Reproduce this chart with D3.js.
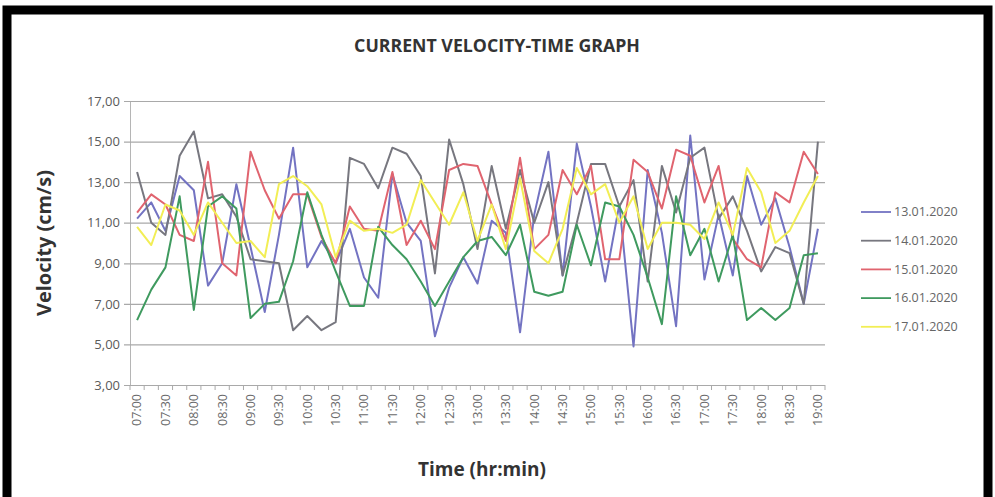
<!DOCTYPE html>
<html>
<head>
<meta charset="utf-8">
<script src="https://cdn.jsdelivr.net/npm/d3@7"></script>
<style>
  body { margin: 0; background: #fff; }
  text { font-family: "Open Sans", "DejaVu Sans", sans-serif; }
</style>
</head>
<body>
<svg id="chart" width="995" height="497"></svg>
<script>
// Measurement times, every 15 minutes
const times = [
  "07:00","07:15","07:30","07:45","08:00","08:15","08:30","08:45","09:00","09:15",
  "09:30","09:45","10:00","10:15","10:30","10:45","11:00","11:15","11:30","11:45",
  "12:00","12:15","12:30","12:45","13:00","13:15","13:30","13:45","14:00","14:15",
  "14:30","14:45","15:00","15:15","15:30","15:45","16:00","16:15","16:30","16:45",
  "17:00","17:15","17:30","17:45","18:00","18:15","18:30","18:45","19:00"
];
// Labelled times on the x axis
const timeLabels = times.filter((t, i) => i % 2 === 0);
// Velocity axis ticks (cm/s)
const velocityTicks = [3, 5, 7, 9, 11, 13, 15, 17];

const seriesNames = ["13.01.2020", "14.01.2020", "15.01.2020", "16.01.2020", "17.01.2020"];
const seriesColors = ["#7373c2", "#77777f", "#e0646f", "#3f9a5f", "#f2ee55"];

// Current velocity (cm/s) per day
const v13 = [11.2,12.0,10.6,13.3,12.6,7.9,9.0,12.9,9.8,6.6,10.4,14.7,8.8,10.1,9.0,10.7,8.3,7.3,13.4,11.0,
             10.1,5.4,7.8,9.3,8.0,11.1,10.5,5.6,11.4,14.5,8.4,14.9,11.8,8.1,11.9,4.9,13.6,10.5,5.9,15.3,
             8.2,11.4,8.4,13.3,10.9,12.2,9.8,7.0,10.7];
const v14 = [13.5,11.0,10.4,14.3,15.5,12.2,12.4,11.3,9.2,9.1,9.0,5.7,6.4,5.7,6.1,14.2,13.9,12.7,14.7,14.4,
             13.3,8.5,15.1,12.9,9.7,13.8,10.7,13.6,11.0,13.0,8.4,11.0,13.9,13.9,11.8,13.1,8.1,13.8,11.5,14.2,
             14.7,11.2,12.3,10.6,8.6,9.8,9.5,7.0,15.0];
const v15 = [11.5,12.4,11.9,10.4,10.1,14.0,9.0,8.4,14.5,12.6,11.2,12.4,12.4,10.3,9.0,11.8,10.7,10.6,13.5,9.9,
             11.1,9.7,13.6,13.9,13.8,11.9,10.1,14.2,9.7,10.4,13.6,12.4,13.8,9.2,9.2,14.1,13.5,11.7,14.6,14.3,
             12.0,13.8,10.2,9.2,8.8,12.5,12.0,14.5,13.4];
const v16 = [6.2,7.7,8.8,12.3,6.7,11.8,12.3,11.7,6.3,7.0,7.1,9.1,12.5,10.4,8.6,6.9,6.9,10.8,9.9,9.2,
             8.1,6.9,8.1,9.3,10.1,10.3,9.4,10.9,7.6,7.4,7.6,10.9,8.9,12.0,11.8,10.4,8.3,6.0,12.3,9.4,
             10.7,8.1,10.4,6.2,6.8,6.2,6.8,9.4,9.5];
const v17 = [10.8,9.9,11.9,11.6,10.4,12.0,11.0,10.0,10.1,9.3,12.9,13.3,12.8,11.9,9.3,11.1,10.6,10.7,10.5,10.9,
             13.1,12.0,10.9,12.5,10.1,11.9,9.7,13.2,9.6,9.0,10.7,13.7,12.4,12.9,11.0,12.3,9.7,11.0,11.0,10.9,
             10.2,12.0,10.4,13.7,12.5,10.0,10.6,12.0,13.3];
const seriesValues = [v13, v14, v15, v16, v17];

const svg = d3.select("#chart");
const W = 995, H = 497;

svg.append("rect").attr("width", W).attr("height", H).attr("fill", "#fff");

// Plot area
const plotLeft = 130, plotRight = 825, plotTop = 101, plotBottom = 385;

const x = d3.scalePoint().domain(times).range([plotLeft, plotRight]).padding(0.5);
const y = d3.scaleLinear().domain([3, 17]).range([plotBottom, plotTop]);

const commaFormat = d3.formatLocale({ decimal: ",", thousands: ".", grouping: [3], currency: ["", ""] }).format(".2f");

// Fit a text element to a target width by adjusting its font size
function fitWidth(sel, target) {
  const node = sel.node();
  const fs = parseFloat(sel.attr("font-size"));
  const w = node.getComputedTextLength();
  if (w > 0) sel.attr("font-size", (fs * target / w).toFixed(2));
}

// Horizontal gridlines and value axis
const yAxis = d3.axisLeft(y).tickValues(velocityTicks).tickSize(-(plotRight - plotLeft)).tickSizeOuter(0)
  .tickFormat(commaFormat).tickPadding(10);
const yG = svg.append("g").attr("transform", `translate(${plotLeft},0)`).call(yAxis);
yG.select(".domain").attr("stroke", "#b5b5b5").attr("stroke-width", 1);
yG.selectAll(".tick line").attr("stroke", "#a9a9a9").attr("stroke-width", 1.2).attr("x1", -6);
yG.selectAll(".tick text").attr("fill", "#5a5a5a").attr("font-size", 13)
  .attr("font-family", "Lato, 'Open Sans', sans-serif");

// Category axis with tick marks at category boundaries
const step = x.step();
const xG = svg.append("g");
xG.selectAll("line.cat").data(d3.range(times.length + 1)).join("line")
  .attr("class", "cat")
  .attr("x1", k => plotLeft + k * step).attr("x2", k => plotLeft + k * step)
  .attr("y1", plotBottom).attr("y2", plotBottom + 5)
  .attr("stroke", "#a9a9a9").attr("stroke-width", 1);
xG.selectAll("text").data(timeLabels).join("text")
  .attr("transform", d => `translate(${x(d)},${plotBottom + 9}) rotate(-90)`)
  .attr("text-anchor", "end").attr("dy", "0.35em")
  .attr("font-family", "'Liberation Serif', 'DejaVu Serif', serif")
  .attr("font-size", 12.5).attr("fill", "#6a6a6a")
  .text(d => d);

// Series lines
const line = d3.line().x((d, i) => x(times[i])).y(d => y(d));
svg.append("g").selectAll("path").data(seriesValues).join("path")
  .attr("d", line)
  .attr("fill", "none")
  .attr("stroke", (d, k) => seriesColors[k])
  .attr("stroke-width", 2)
  .attr("stroke-linejoin", "round");

// Title
const title = svg.append("text").attr("x", 497).attr("y", 52).attr("text-anchor", "middle")
  .attr("font-weight", "bold").attr("font-size", 15).attr("fill", "#333")
  .attr("font-family", "Lato, 'Open Sans', sans-serif")
  .text("CURRENT VELOCITY-TIME GRAPH");
fitWidth(title, 286);

// Axis titles
const yTitle = svg.append("text").attr("transform", `translate(51,243) rotate(-90)`)
  .attr("text-anchor", "middle").attr("font-weight", "bold").attr("font-size", 17).attr("fill", "#333")
  .attr("font-family", "Lato, 'Open Sans', sans-serif")
  .text("Velocity (cm/s)");
fitWidth(yTitle, 146);

const xTitle = svg.append("text").attr("x", 482).attr("y", 476).attr("text-anchor", "middle")
  .attr("font-weight", "bold").attr("font-size", 17).attr("fill", "#333")
  .attr("font-family", "Lato, 'Open Sans', sans-serif")
  .text("Time (hr:min)");
fitWidth(xTitle, 128);

// Legend
const legend = svg.append("g");
seriesNames.forEach((name, k) => {
  const ly = 212 + k * 28.7;
  legend.append("line").attr("x1", 861).attr("x2", 891).attr("y1", ly).attr("y2", ly)
    .attr("stroke", seriesColors[k]).attr("stroke-width", 1.8);
  legend.append("text").attr("x", 894).attr("y", ly).attr("dy", "0.35em")
    .attr("font-size", 12.5).attr("fill", "#666")
    .attr("font-family", "Lato, 'Open Sans', sans-serif")
    .text(name);
});

// Frame
svg.append("rect").attr("x", 7).attr("y", 10).attr("width", 981).attr("height", 500)
  .attr("fill", "none").attr("stroke", "#000").attr("stroke-width", 9);
</script>
</body>
</html>
